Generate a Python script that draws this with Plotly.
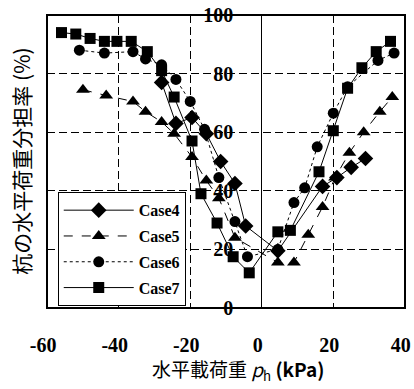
import plotly.graph_objects as go

# ---- data ----
case4_x = [-28, -24, -19.5, -15.5, -11.5, -7.5, -4.5, 4.5, 17, 21, 25, 29]
case4_y = [77, 63, 65, 59.5, 50, 42.5, 28, 19.5, 41.5, 44.5, 48, 51]

case5_x = [-50, -43.5, -36, -32.5, -28, -24.5, -19.5, -15.5, -12, -7.5, 4.5, 9, 13, 17, 20.5, 24.5, 28.5, 33, 36.5]
case5_y = [74.5, 72.5, 70.5, 67, 63.5, 59.5, 51.5, 43.5, 37.5, 24, 15.5, 15.5, 25, 34.5, 44.5, 53, 60, 67, 72]

case6_x = [-51, -44, -36, -32.5, -28, -24, -20, -16, -12, -7.5, -4, 4.5, 9, 12, 15.5, 20, 24, 32.5, 37]
case6_y = [88, 87, 87.5, 85, 83, 78, 70.5, 61, 44.5, 29.5, 17.5, 20, 36, 41, 55, 66.5, 75.5, 84.5, 87]

case7_x = [-56, -52, -48, -44, -40.5, -36.5, -32, -28, -24.5, -19.5, -17, -12.5, -8, -3.5, 4.5, 8, 16, 20, 24, 28, 32, 36]
case7_y = [94, 93.5, 92, 91, 91, 91, 87.5, 81, 72, 57, 39, 29, 17.5, 12, 26, 26.5, 46.5, 60.5, 75, 82, 87.5, 91]

x_tick_vals = [-60, -40, -20, 0, 20, 40]
x_tick_text = ["-60", "-40", "-20", "0", "20", "40"]
y_tick_vals = [0, 20, 40, 60, 80, 100]
y_tick_text = ["0", "20", "40", "60", "80", "100"]

series = [
    ("Case4", case4_x, case4_y, "diamond", 12, "solid"),
    ("Case5", case5_x, case5_y, "triangle-up", 12, "dash"),
    ("Case6", case6_x, case6_y, "circle", 11, "dot"),
    ("Case7", case7_x, case7_y, "square", 11, "solid"),
]

fig = go.Figure()
for name, xs, ys, sym, sz, dash in series:
    fig.add_trace(go.Scatter(
        x=xs, y=ys, name=name, mode="lines+markers",
        line=dict(color="black", width=1, dash=dash),
        marker=dict(symbol=sym, size=sz, color="black"),
        legendgroup=name,
    ))

tick_font = dict(family="Liberation Serif", size=20, color="black", weight="bold")

fig.update_layout(
    width=414, height=389,
    margin=dict(l=47, r=9, t=15, b=81),
    paper_bgcolor="white", plot_bgcolor="white",
    showlegend=True,
    legend=dict(
        x=0.03, y=0.395, xanchor="left", yanchor="top",
        bgcolor="white", bordercolor="black", borderwidth=1,
        font=dict(family="Liberation Serif", size=16, color="black", weight="bold"),
        itemwidth=70, traceorder="grouped", tracegroupgap=2,
    ),
    xaxis=dict(
        range=[-60.05, 40.05], tickvals=x_tick_vals, ticktext=x_tick_text,
        tickfont=tick_font, ticks="outside", ticklen=19, tickcolor="rgba(0,0,0,0)",
        ticklabeloverflow="allow", ticklabelshift=-4, automargin=False,
        showgrid=True, gridcolor="black", gridwidth=1, griddash="8px,4px",
        zeroline=True, zerolinecolor="black", zerolinewidth=1,
        showline=False,
    ),
    yaxis=dict(
        range=[0, 100], tickvals=y_tick_vals, ticktext=y_tick_text,
        tickfont=tick_font, ticks="", automargin=False,
        anchor="free", position=0.52,
        showgrid=True, gridcolor="black", gridwidth=1, griddash="8px,4px",
        zeroline=False, showline=False,
    ),
    shapes=[dict(type="rect", xref="paper", yref="paper", x0=0, x1=1, y0=0, y1=1,
                 line=dict(color="black", width=2), layer="above")],
    annotations=[
        dict(text="杭の水平荷重分担率 (%)", xref="paper", yref="paper",
             x=-0.075, y=0.5, xanchor="center", yanchor="middle", textangle=-90,
             showarrow=False,
             font=dict(family="Noto Sans CJK JP", size=21, color="black")),
        dict(text="水平載荷重 <i>p</i><sub>h</sub> <b>(kPa)</b>",
             xref="paper", yref="paper",
             x=0.533, y=-0.213, xanchor="center", yanchor="middle",
             showarrow=False,
             font=dict(family="Noto Sans CJK JP", size=19, color="black")),
    ],
)

fig.write_html(
    "out.html", config={"displayModeBar": False},
    post_script="document.body.style.margin='0'; document.body.style.overflow='hidden'; "
                "Plotly.redraw(document.getElementById('{plot_id}'));",
)
